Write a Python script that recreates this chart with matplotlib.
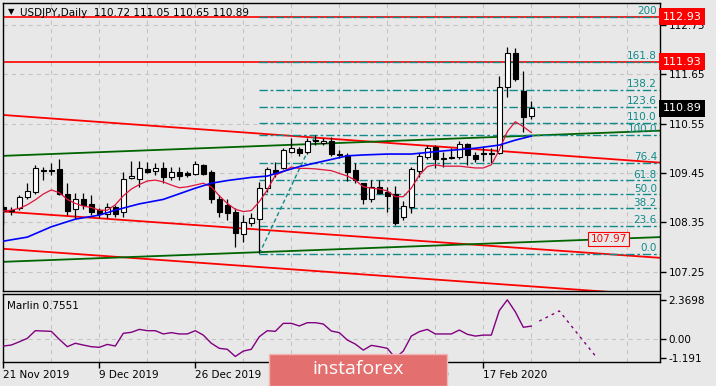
import matplotlib.pyplot as plt
from matplotlib.patches import Rectangle
from matplotlib.transforms import blended_transform_factory

plt.rcParams['font.family'] = ['DejaVu Sans']
plt.rcParams['lines.scale_dashes'] = False

# daily bars, 21 Nov 2019 .. 25 Feb 2020 (bar index 0..66)
opens = [108.70, 108.61, 108.66, 108.92, 109.03, 109.49, 109.52, 109.53, 108.99, 108.64,
         108.86, 108.75, 108.62, 108.53, 108.70, 108.59, 109.33, 109.31, 109.53, 109.49,
         109.55, 109.37, 109.46, 109.44, 109.42, 109.63, 109.46, 108.88, 108.74, 108.59,
         108.09, 108.34, 108.42, 109.11, 109.52, 109.57, 109.92, 109.98, 109.91, 110.17,
         110.11, 110.17, 109.86, 109.85, 109.52, 109.22, 108.88, 109.13, 109.03, 108.98,
         108.47, 108.70, 109.50, 109.81, 110.02, 109.77, 109.78, 109.80, 110.09, 109.85,
         109.90, 109.90, 109.89, 111.37, 112.11, 111.27, 110.72]
highs = [108.74, 108.70, 108.96, 109.23, 109.63, 109.58, 109.68, 109.76, 109.22, 109.01,
         109.01, 108.96, 108.66, 108.79, 108.74, 109.48, 109.72, 109.72, 109.70, 109.66,
         109.70, 109.59, 109.59, 109.49, 109.72, 109.65, 109.51, 108.96, 108.86, 108.66,
         108.51, 108.55, 109.25, 109.59, 109.70, 110.00, 110.22, 110.03, 110.22, 110.29,
         110.22, 110.24, 109.95, 109.89, 109.68, 109.23, 109.29, 109.29, 109.14, 109.16,
         108.82, 109.59, 109.90, 110.07, 110.07, 109.92, 110.00, 110.16, 110.11, 109.92,
         110.02, 110.00, 111.61, 112.25, 112.23, 111.72, 111.05]
lows = [108.29, 108.51, 108.62, 108.88, 108.99, 109.29, 109.40, 108.96, 108.51, 108.42,
        108.64, 108.51, 108.44, 108.44, 108.47, 108.47, 109.31, 109.14, 109.44, 109.40,
        109.22, 109.29, 109.29, 109.35, 109.40, 109.40, 108.79, 108.47, 108.40, 107.79,
        107.92, 108.27, 107.67, 109.03, 109.37, 109.53, 109.89, 109.83, 109.86, 110.07,
        110.07, 109.83, 109.78, 109.28, 109.22, 108.76, 108.81, 108.98, 108.59, 108.29,
        108.40, 108.56, 109.37, 109.75, 109.55, 109.58, 109.75, 109.77, 109.63, 109.70,
        109.72, 109.68, 109.87, 111.13, 111.50, 110.35, 110.65]
closes = [108.60, 108.63, 108.91, 109.05, 109.55, 109.52, 109.49, 108.99, 108.61, 108.86,
          108.74, 108.59, 108.53, 108.68, 108.53, 109.31, 109.38, 109.55, 109.48, 109.55,
          109.37, 109.46, 109.39, 109.41, 109.64, 109.42, 108.88, 108.59, 108.56, 108.11,
          108.36, 108.44, 109.11, 109.53, 109.44, 109.96, 110.00, 109.90, 110.17, 110.16,
          110.17, 109.87, 109.84, 109.48, 109.29, 108.88, 109.14, 109.01, 108.94, 108.34,
          108.71, 109.53, 109.83, 110.00, 109.75, 109.78, 109.81, 110.09, 109.84, 109.77,
          109.87, 109.86, 111.36, 112.11, 111.55, 110.70, 110.89]

ma_fast = [108.60, 108.62, 108.66, 108.74, 108.85, 108.98, 109.07, 109.01, 108.86, 108.77,
           108.71, 108.68, 108.62, 108.62, 108.74, 108.94, 109.09, 109.19, 109.27, 109.29,
           109.25, 109.18, 109.12, 109.14, 109.18, 109.22, 109.14, 108.94, 108.77, 108.64,
           108.59, 108.61, 108.81, 109.07, 109.40, 109.48, 109.58, 109.55, 109.55, 109.54,
           109.52, 109.50, 109.44, 109.38, 109.29, 109.14, 109.11, 109.09, 109.05, 108.92,
           108.92, 109.11, 109.40, 109.59, 109.63, 109.60, 109.60, 109.60, 109.58, 109.56,
           109.56, 109.63, 109.96, 110.37, 110.59, 110.48, 110.35]
ma_slow_idx = [0, 3, 6, 9, 12, 14, 17, 20, 24, 26, 28, 31, 33, 37, 41, 43, 45, 48, 51, 55,
               59, 62, 64, 66]
ma_slow = [107.93, 108.02, 108.25, 108.42, 108.51, 108.62, 108.76, 108.86, 109.11, 109.22,
           109.28, 109.35, 109.38, 109.59, 109.75, 109.83, 109.85, 109.87, 109.87, 109.94,
           110.00, 110.07, 110.18, 110.27]

marlin = [-0.46, -0.40, -0.20, 0.01, 0.48, 0.46, 0.44, -0.05, -0.50, -0.29,
          -0.40, -0.50, -0.54, -0.36, -0.46, 0.32, 0.38, 0.56, 0.48, 0.48,
          0.28, 0.36, 0.28, 0.28, 0.48, 0.21, -0.29, -0.60, -0.66, -1.10,
          -0.77, -0.66, 0.11, 0.48, 0.44, 0.93, 0.93, 0.77, 0.97, 0.97,
          0.89, 0.46, 0.36, -0.09, -0.34, -0.71, -0.42, -0.50, -0.60, -1.19,
          -0.77, 0.15, 0.42, 0.56, 0.28, 0.28, 0.28, 0.52, 0.26, 0.15,
          0.21, 0.21, 1.71, 2.37, 1.64, 0.69, 0.76]
marlin_fc_idx = [67, 69.5, 74]
marlin_fc = [1.07, 1.69, -1.06]

# trend lines: (bar, price) -> (bar, price)
red_lines = [((0, 110.74), (82, 109.68)), ((0, 108.59), (82, 107.56)), ((0, 107.76), (82, 106.72))]
green_lines = [((0, 109.83), (82, 110.39)), ((0, 107.47), (82, 108.02))]
hlines = [112.93, 111.93]

# fibo from 8 Jan low to 17 Jan high
fib_from = (32, 107.65)
fib_to = (39, 110.29)
fib_levels = [0.0, 23.6, 38.2, 50.0, 61.8, 76.4, 100.0, 110.0, 123.6, 138.2, 161.8, 200.0]
fib_labels = ['0.0', '23.6', '38.2', '50.0', '61.8', '76.4', '100.0', '110.0', '123.6',
              '138.2', '161.8', '200']

price_ticks = [107.25, 108.35, 109.45, 110.55, 111.65, 112.75]
date_idx = [0, 12, 24, 36, 48, 60]
date_labels = ['21 Nov 2019', '9 Dec 2019', '26 Dec 2019', '14 Jan 2020', '30 Jan 2020',
               '17 Feb 2020']
grid_idx = list(range(6, 80, 6))

bg = '#e8e8e8'
grid_c = '#c4c4c4'
fib_c = '#108a8a'
W, H = 716, 386
fs = 7.5


def box(x0, y0, x1, y1):
    return [x0 / W, 1 - y1 / H, (x1 - x0) / W, (y1 - y0) / H]


fig = plt.figure(figsize=(W / 100, H / 100), dpi=100, facecolor=bg)
ax = fig.add_axes(box(2.5, 3, 660, 291), facecolor=bg)
ax2 = fig.add_axes(box(2.5, 294.3, 660, 361.7), facecolor=bg)

xmin, xmax = -0.1, -0.1 + 657.5 / 8
for a in (ax, ax2):
    a.set_xlim(xmin, xmax)
    for s in a.spines.values():
        s.set_color('black')
        s.set_linewidth(1)
    for gx in grid_idx:
        a.axvline(gx, color=grid_c, lw=0.8, ls=(0, (3, 3)), zorder=0)

ax.set_ylim(106.82, 113.234)
for p in price_ticks:
    ax.axhline(p, color=grid_c, lw=0.8, ls=(0, (3, 3)), zorder=0)

# trend lines
for (x0, y0), (x1, y1) in red_lines:
    ax.plot([x0, x1], [y0, y1], color='red', lw=1.3, zorder=2)
for (x0, y0), (x1, y1) in green_lines:
    ax.plot([x0, x1], [y0, y1], color='#006400', lw=1.3, zorder=2)
for h in hlines:
    ax.axhline(h, color='red', lw=1.2, zorder=2)

# fibonacci
rng = fib_to[1] - fib_from[1]
for lv, lab in zip(fib_levels, fib_labels):
    y = fib_from[1] + rng * lv / 100
    ax.plot([fib_from[0], xmax], [y, y], color=fib_c, lw=1, ls=(0, (6, 2, 2, 2)), zorder=3)
    ax.text(81.7, y + 0.02, lab, color=fib_c, fontsize=fs, ha='right', va='bottom', zorder=3)
ax.plot([fib_from[0], fib_to[0]], [fib_from[1], fib_to[1]], color=fib_c, lw=1,
        ls=(0, (3, 2)), zorder=3)

# candles
idx = list(range(len(opens)))
ax.vlines(idx, lows, highs, color='black', lw=0.9, zorder=4)
for i in idx:
    o, c = opens[i], closes[i]
    ax.bar(i, max(abs(c - o), 0.012), bottom=min(o, c), width=0.62,
           color='white' if c >= o else 'black', edgecolor='black', lw=0.8, zorder=5)

# moving averages
ax.plot(idx, ma_fast, color='#e0143c', lw=0.9, zorder=6)
ax.plot(ma_slow_idx, ma_slow, color='#0000ff', lw=1.2, zorder=6)

# price axis
ax.set_xticks([])
ax.yaxis.tick_right()
ax.set_yticks(price_ticks)
ax.set_yticklabels([f'{p:.2f}' for p in price_ticks])
ax.tick_params(axis='y', length=4, width=1, pad=2, labelsize=fs)

tr = blended_transform_factory(ax.transAxes, ax.transData)
for val, fc in [(112.93, 'red'), (111.93, 'red'), (110.89, 'black')]:
    ax.text(1.004, val, f'{val:.2f}', transform=tr, color='white', fontsize=fs + 0.5,
            ha='left', va='center', zorder=10,
            bbox=dict(boxstyle='square,pad=0.3', fc=fc, ec='none'))

ax.text(73.4, 107.97, '107.97', color='red', fontsize=fs, ha='left', va='center', zorder=8,
        bbox=dict(boxstyle='square,pad=0.2', fc=bg, ec='red', lw=0.8))

# indicator panel
ax2.set_ylim(-1.42, 2.71)
ax2.axhline(0, color=grid_c, lw=0.8, ls=(0, (3, 3)), zorder=0)
ax2.plot(idx, marlin, color='#800080', lw=1, zorder=3)
ax2.plot(marlin_fc_idx, marlin_fc, color='#800080', lw=1, ls=(0, (2, 3)), zorder=3)
ax2.yaxis.tick_right()
ax2.set_yticks([-1.191, 0.0, 2.3698])
ax2.set_yticklabels(['-1.191', '0.00', '2.3698'])
ax2.tick_params(axis='y', length=4, width=1, pad=2, labelsize=fs)
ax2.set_xticks(date_idx)
ax2.set_xticklabels(date_labels, ha='left')
ax2.tick_params(axis='x', length=4, width=1, pad=2, labelsize=fs)
ax2.text(0.007, 0.83, 'Marlin 0.7551', transform=ax2.transAxes, fontsize=fs,
         ha='left', va='center')

# header
fig.text(8 / W, 1 - 12 / H, '\u25bc', fontsize=6, ha='left', va='center')
fig.text(20 / W, 1 - 12.5 / H, 'USDJPY,Daily  110.72 111.05 110.65 110.89', fontsize=fs,
         ha='left', va='center')

# watermark
fig.patches.append(Rectangle((269 / W, 0), 178 / W, 32 / H, transform=fig.transFigure,
                             fc='#e46f6f', ec='#f2b6b6', lw=1, zorder=20))
fig.text(358 / W, 1 - 369 / H, 'instaforex', color='white', fontsize=14,
         family='Open Sans', ha='center', va='center', zorder=21)

fig.savefig('out.png', dpi=100, facecolor=bg)
